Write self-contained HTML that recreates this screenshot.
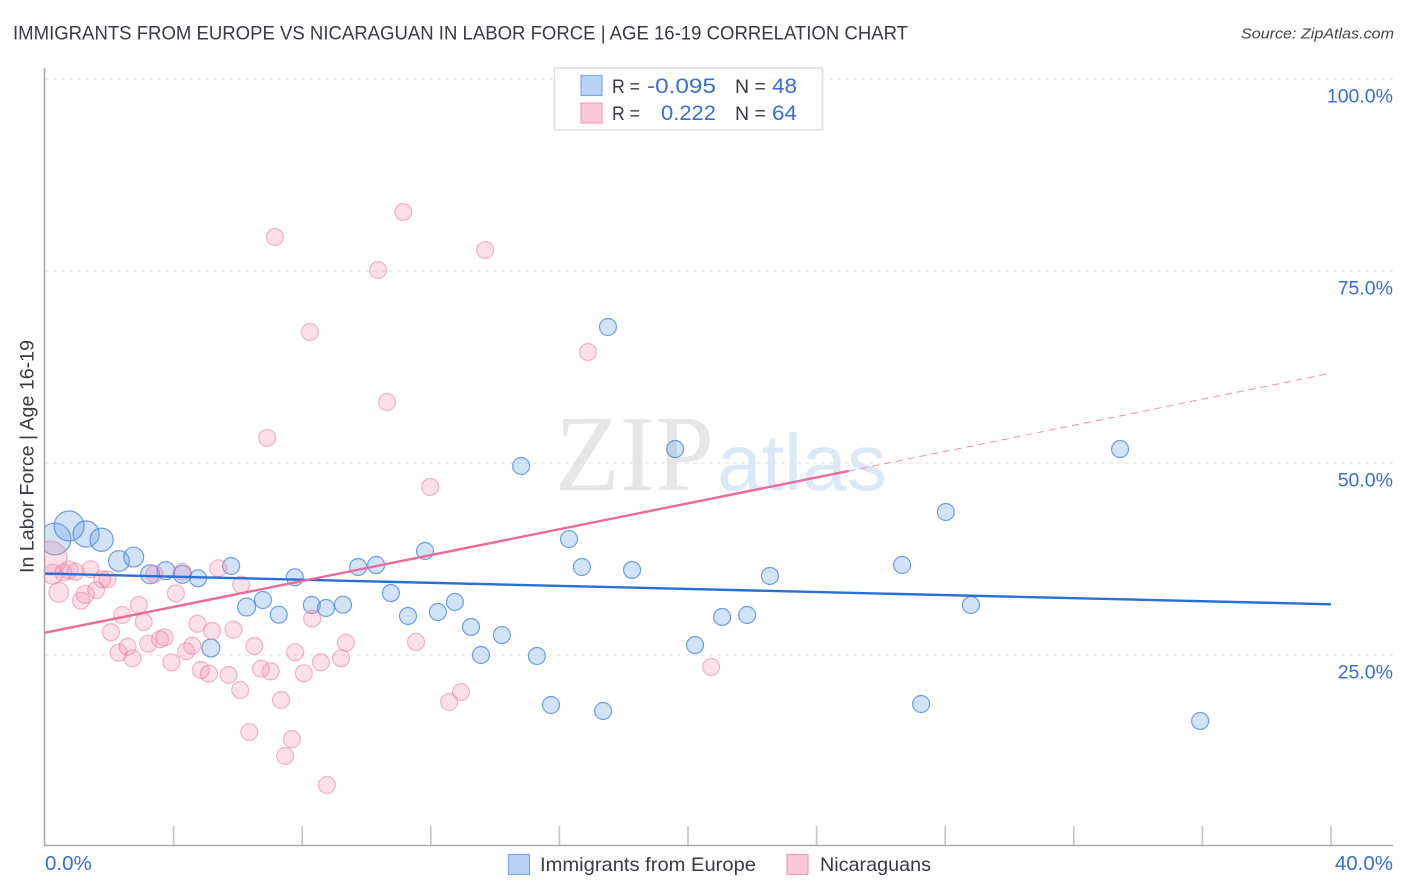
<!DOCTYPE html>
<html lang="en">
<head>
<meta charset="utf-8">
<title>Immigrants from Europe vs Nicaraguan in Labor Force | Age 16-19 Correlation Chart</title>
<style>
html,body{margin:0;padding:0;background:#fff;}
svg{display:block;font-family:"Liberation Sans",sans-serif;}
</style>
</head>
<body>
<svg id="chart" xmlns="http://www.w3.org/2000/svg" width="1406" height="892" viewBox="0 0 1406 892">
  <rect x="0" y="0" width="1406" height="892" fill="#ffffff"/>
  <defs>
    <clipPath id="plot-clip"><rect x="45" y="60" width="1350" height="785"/></clipPath>
  </defs>
  <text x="13" y="39.5" font-size="19.6" fill="#383c42" textLength="895" lengthAdjust="spacingAndGlyphs">IMMIGRANTS FROM EUROPE VS NICARAGUAN IN LABOR FORCE | AGE 16-19 CORRELATION CHART</text>
  <text x="1394" y="38.5" font-size="15" font-style="italic" fill="#444" text-anchor="end" textLength="153" lengthAdjust="spacingAndGlyphs">Source: ZipAtlas.com</text>

  <g>
    <text x="555" y="490" font-family="'Liberation Serif',serif" font-size="108" fill="#e6e6e6" textLength="159" lengthAdjust="spacingAndGlyphs">ZIP</text>
    <text x="717" y="490" font-size="80" fill="#dce8f8" textLength="170" lengthAdjust="spacingAndGlyphs">atlas</text>
  </g>

  <g id="grid"></g>
  <g id="axes"></g>
  <g id="marks-blue" clip-path="url(#plot-clip)"></g>
  <g id="marks-pink" clip-path="url(#plot-clip)"></g>
  <g id="trends"></g>
  <g id="tick-labels"></g>

  <text transform="translate(33.5,456.5) rotate(-90)" font-size="19.2" fill="#383c42" text-anchor="middle" textLength="233" lengthAdjust="spacingAndGlyphs">In Labor Force | Age 16-19</text>

  <g>
    <rect x="554.5" y="68" width="268" height="62" fill="#ffffff" stroke="#e0e0e0" stroke-width="1.6"/>
    <rect x="581" y="75.5" width="21" height="20" fill="#b9d3f5" stroke="#7fa8e3" stroke-width="1.2"/>
    <text x="612" y="93" font-size="19.5" fill="#383c42" textLength="28" lengthAdjust="spacingAndGlyphs">R =</text>
    <text x="647" y="93" font-size="21" fill="#3a6fd0" textLength="69" lengthAdjust="spacingAndGlyphs">-0.095</text>
    <text x="735" y="93" font-size="19.5" fill="#383c42">N =</text>
    <text x="772" y="93" font-size="21" fill="#3a6fd0" textLength="25" lengthAdjust="spacingAndGlyphs">48</text>
    <rect x="581" y="103" width="21" height="20" fill="#fcc7d9" stroke="#eea0bc" stroke-width="1.2"/>
    <text x="612" y="120" font-size="19.5" fill="#383c42" textLength="28" lengthAdjust="spacingAndGlyphs">R =</text>
    <text x="661" y="120" font-size="21" fill="#3a6fd0" textLength="55" lengthAdjust="spacingAndGlyphs">0.222</text>
    <text x="735" y="120" font-size="19.5" fill="#383c42">N =</text>
    <text x="772" y="120" font-size="21" fill="#3a6fd0" textLength="25" lengthAdjust="spacingAndGlyphs">64</text>
  </g>

  <g>
    <rect x="508.5" y="854.5" width="21" height="20" fill="#b9d3f5" stroke="#7fa8e3" stroke-width="1.2"/>
    <text x="540" y="871" font-size="19.5" fill="#383c42" textLength="216" lengthAdjust="spacingAndGlyphs">Immigrants from Europe</text>
    <rect x="787" y="854.5" width="21" height="20" fill="#fcc7d9" stroke="#eea0bc" stroke-width="1.2"/>
    <text x="820" y="871" font-size="19.5" fill="#383c42" textLength="111" lengthAdjust="spacingAndGlyphs">Nicaraguans</text>
  </g>
</svg>
<script>
var europeX = [0.31,0.75,1.28,1.76,2.30,2.76,3.27,3.76,4.27,4.76,5.79,6.27,6.78,7.27,7.77,8.30,8.74,9.27,5.16,9.74,10.30,10.76,11.29,11.82,12.22,12.75,13.25,13.56,14.21,14.81,15.30,15.74,16.30,16.70,17.36,17.51,18.26,19.60,20.22,21.06,21.84,22.55,26.66,27.25,28.02,28.80,33.44,35.93];
var europeY = [40.10,41.80,40.76,40.01,37.24,37.76,35.51,35.98,35.51,34.99,36.59,31.25,32.16,30.25,35.12,31.51,31.12,31.55,25.91,36.46,36.72,33.07,30.08,38.54,30.60,31.90,28.65,25.00,27.60,49.61,24.87,18.49,40.10,36.46,17.71,67.71,36.07,51.82,26.30,29.95,30.21,35.29,36.72,18.62,43.62,31.51,51.82,16.41];
var europeWeight = [28,25,19,15,12,11,10,9,9,8,8,9,8,8,8,8,8,8,9,8,8,8,8,8,8,8,8,8,8,8,8,8,8,8,8,8,8,8,8,8,8,8,8,8,8,8,8,8];

var nicaraguaX = [0.16,0.24,0.43,0.57,0.75,0.95,1.42,1.12,1.25,1.59,1.78,1.94,2.05,2.40,2.92,3.07,2.29,2.57,2.72,3.21,3.58,3.72,3.40,4.27,4.07,4.74,5.20,4.39,4.58,3.93,4.85,5.10,5.39,6.10,5.86,6.51,5.71,6.07,6.72,7.02,7.78,7.34,8.05,8.31,8.58,9.21,9.36,7.15,6.35,7.47,7.68,8.77,6.91,8.24,10.36,11.14,13.69,10.64,11.98,11.54,12.57,12.94,16.89,20.72];
var nicaraguaY = [37.63,35.51,33.16,35.72,36.07,35.85,36.16,32.07,32.90,33.46,34.86,34.86,27.96,30.21,31.51,29.30,25.30,26.08,24.57,26.47,27.04,27.30,35.55,35.85,33.03,29.08,28.13,25.48,26.21,24.05,23.05,22.57,36.29,34.15,28.29,26.17,22.40,20.44,23.22,22.88,25.35,19.14,22.62,29.73,24.05,24.57,26.60,79.43,14.97,11.85,14.06,8.07,53.26,67.06,75.13,82.68,77.73,57.94,46.88,26.69,18.88,20.18,64.45,23.44];
var nicaraguaWeight = [32,11,11,8,9,8,8,8,9,8,8,8,8,8,8,8,8,8,8,8,8,8,8,8,8,8,8,8,8,8,8,8,8,8,8,8,8,8,8,8,8,8,8,8,8,8,8,8,8,8,8,8,8,8,8,8,8,8,8,8,8,8,8,8];

var xTickValues = [0,4,8,12,16,20,24,28,32,36,40];
var yGridValues = [25,50,75,100];
var yTickLabels = ["25.0%","50.0%","75.0%","100.0%"];
var xEndValues = [0,40];
var xEndLabels = ["0.0%","40.0%"];

var europeTrendX = [0,40];
var europeTrendY = [35.6,31.6];
var nicaraguaTrendX = [0,25];
var nicaraguaTrendY = [27.9,48.96];
var nicaraguaProjX = [25,40];
var nicaraguaProjY = [48.96,61.7];

var NS = 'http://www.w3.org/2000/svg';
function xScale(v){ return 45 + v * 32.15; }
function yScale(v){ return 847 - v * 7.68; }
function rScale(w){ return 3 * Math.sqrt(w); }
function svgEl(tag, parent, attrs){
  var el = document.createElementNS(NS, tag);
  for (var k in attrs) el.setAttribute(k, attrs[k]);
  parent.appendChild(el);
  return el;
}

var gridG = document.getElementById('grid');
var axesG = document.getElementById('axes');
var labelsG = document.getElementById('tick-labels');

yGridValues.forEach(function(v, i){
  var line = svgEl('line', gridG, {x1:45, x2:1393, y1:yScale(v), y2:yScale(v), stroke:'#e2e2e2', 'stroke-width':1, 'stroke-dasharray':'4 4'});
  
  
  var t = svgEl('text', labelsG, {x:1393, y:yScale(v)+23.5, 'font-size':19.5, fill:'#3a6fd0', 'text-anchor':'end'});
  t.textContent = yTickLabels[i];
  
  
});

var leftAxis = svgEl('line', axesG, {x1:44.5, x2:44.5, y1:68, y2:846, stroke:'#aaaaaa', 'stroke-width':1.6});


var bottomAxis = svgEl('line', axesG, {x1:44, x2:1393, y1:845.5, y2:845.5, stroke:'#aaaaaa', 'stroke-width':1.6});



xTickValues.forEach(function(v){
  if (v === 0) return;
  var tick = svgEl('line', axesG, {x1:xScale(v), x2:xScale(v), y1:826, y2:845, stroke:'#c4c4c4', 'stroke-width':1.6});
  
  
});

xEndValues.forEach(function(v, i){
  var t = svgEl('text', labelsG, {x: i === 0 ? xScale(v) : 1393, y:870, 'font-size':20.5, fill:'#3a6fd0', 'text-anchor': i === 0 ? 'start' : 'end'});
  t.textContent = xEndLabels[i];
  
  
});

function drawPoints(groupId, xs, ys, ws, fill, stroke, name){
  var g = document.getElementById(groupId);
  xs.forEach(function(x, i){
    var c = svgEl('circle', g, {cx:xScale(x), cy:yScale(ys[i]), r:rScale(ws[i]), fill:fill, stroke:stroke, 'stroke-width':1.2});
    
    
  });
}
drawPoints('marks-blue', europeX, europeY, europeWeight, 'rgba(105,160,230,0.30)', 'rgba(70,130,215,0.75)', 'europe-point');
drawPoints('marks-pink', nicaraguaX, nicaraguaY, nicaraguaWeight, 'rgba(240,130,170,0.25)', 'rgba(232,125,165,0.55)', 'nicaragua-point');

var trendsG = document.getElementById('trends');
var blueTrend = svgEl('line', trendsG, {x1:xScale(europeTrendX[0]), y1:yScale(europeTrendY[0]), x2:xScale(europeTrendX[1]), y2:yScale(europeTrendY[1]), stroke:'#2a6fd6', 'stroke-width':2.4});


var pinkTrend = svgEl('line', trendsG, {x1:xScale(nicaraguaTrendX[0]), y1:yScale(nicaraguaTrendY[0]), x2:xScale(nicaraguaTrendX[1]), y2:yScale(nicaraguaTrendY[1]), stroke:'#ec6b9a', 'stroke-width':2.4});


var pinkProj = svgEl('line', trendsG, {x1:xScale(nicaraguaProjX[0]), y1:yScale(nicaraguaProjY[0]), x2:xScale(nicaraguaProjX[1]), y2:yScale(nicaraguaProjY[1]), stroke:'#ec6b9a', 'stroke-width':1, 'stroke-dasharray':'7 5', opacity:0.75});


</script>
</body>
</html>
